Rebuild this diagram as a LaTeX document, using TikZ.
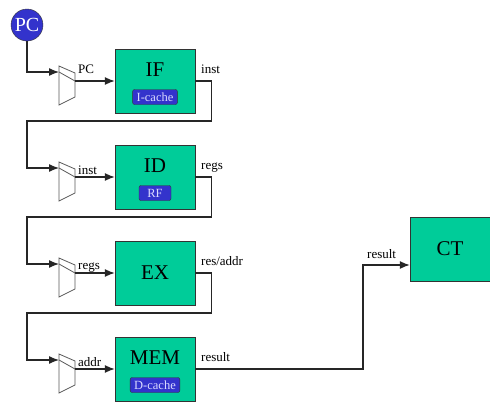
\documentclass[tikz,border=0pt]{standalone}
\usepackage{fontspec}
\setmainfont{Liberation Serif}
\usetikzlibrary{arrows.meta}
\definecolor{stagegreen}{RGB}{0,204,153}
\definecolor{unitblue}{RGB}{51,51,204}

\begin{document}
\begin{tikzpicture}[x=1pt,y=-1pt,
	stage/.style={draw=black!80,fill=stagegreen,minimum width=80pt,minimum height=64pt,inner sep=0pt},
	stagename/.style={font=\fontsize{21}{21}\selectfont},
	unit/.style={draw=black!80,fill=unitblue,rounded corners=2pt,text=white!85!blue,font=\fontsize{12.5}{12.5}\selectfont,minimum height=15pt,inner xsep=4pt,inner ysep=0pt},
	mux/.style={draw=black!65,line width=0.8pt},
	wire/.style={draw=black!85,line width=1.2pt,-{Latex[length=10pt,width=8pt]}},
	sig/.style={font=\fontsize{13}{13}\selectfont,anchor=base west,inner sep=0pt}]
			\useasboundingbox (0,0) rectangle (490,402);
			
			\node [circle,draw=black!80,fill=unitblue,text=white,minimum size=32pt,inner sep=0pt,font=\fontsize{20}{20}\selectfont] (PC) at (27,25) {PC};
			
			\node [stage] (IF) at (155,81) {};
			\node [stagename] (IFname) at (155,69.5) {IF};
			\node [unit] (icache) at (155,97) {I-cache};
			
			\node [stage] (ID) at (155,177) {};
			\node [stagename] (IDname) at (155,165.5) {ID};
			\node [unit,minimum width=32pt] (rf) at (155,193) {RF};
			
			\node [stage,stagename] (EX) at (155,273) {EX};
			
			\node [stage] (MEM) at (155,369) {};
			\node [stagename] (MEMname) at (155,357.5) {MEM};
			\node [unit] (dcache) at (155,385) {D-cache};
			
			\node [stage,stagename] (CT) at (450,249) {CT};
			
			\draw [mux] (59,66) -- (75,73) -- (75,97) -- (59,105) -- cycle;
			\coordinate (inIF) at (59,72);
			\coordinate (outIF) at (75,81);
			\draw [mux] (inIF) -- (outIF);
			
			\draw [mux] (59,162) -- (75,169) -- (75,193) -- (59,201) -- cycle;
			\coordinate (inID) at (59,168);
			\coordinate (outID) at (75,177);
			\draw [mux] (inID) -- (outID);
			
			\draw [mux] (59,258) -- (75,265) -- (75,289) -- (59,297) -- cycle;
			\coordinate (inEX) at (59,264);
			\coordinate (outEX) at (75,273);
			\draw [mux] (inEX) -- (outEX);
			
			\draw [mux] (59,354) -- (75,361) -- (75,385) -- (59,393) -- cycle;
			\coordinate (inMEM) at (59,360);
			\coordinate (outMEM) at (75,369);
			\draw [mux] (inMEM) -- (outMEM);
			
			\draw [wire] (PC) |- (inIF);
			\draw [wire] (outIF) -- (IF.west);
			\draw [wire] (IF.east) -- ++(16,0) |- (27,121) |- (inID);
			\draw [wire] (outID) -- (ID.west);
			\draw [wire] (ID.east) -- ++(16,0) |- (27,217) |- (inEX);
			\draw [wire] (outEX) -- (EX.west);
			\draw [wire] (EX.east) -- ++(16,0) |- (27,313) |- (inMEM);
			\draw [wire] (outMEM) -- (MEM.west);
			\draw [wire] (MEM.east) -| (363,265) -- (CT.west |- 0,265);
			
			\node [sig] (pcsig) at (78,73) {PC};
			\node [sig] (instsig) at (78,174) {inst};
			\node [sig] (regssig) at (78,269) {regs};
			\node [sig] (addrsig) at (78,366) {addr};
			
			\node [sig] (ifout) at (201,73) {inst};
			\node [sig] (idout) at (201,169) {regs};
			\node [sig] (exout) at (201,265) {res/addr};
			\node [sig] (memout) at (201,361) {result};
			\node [sig] (ctin) at (367,258) {result};
\end{tikzpicture}
\end{document}
